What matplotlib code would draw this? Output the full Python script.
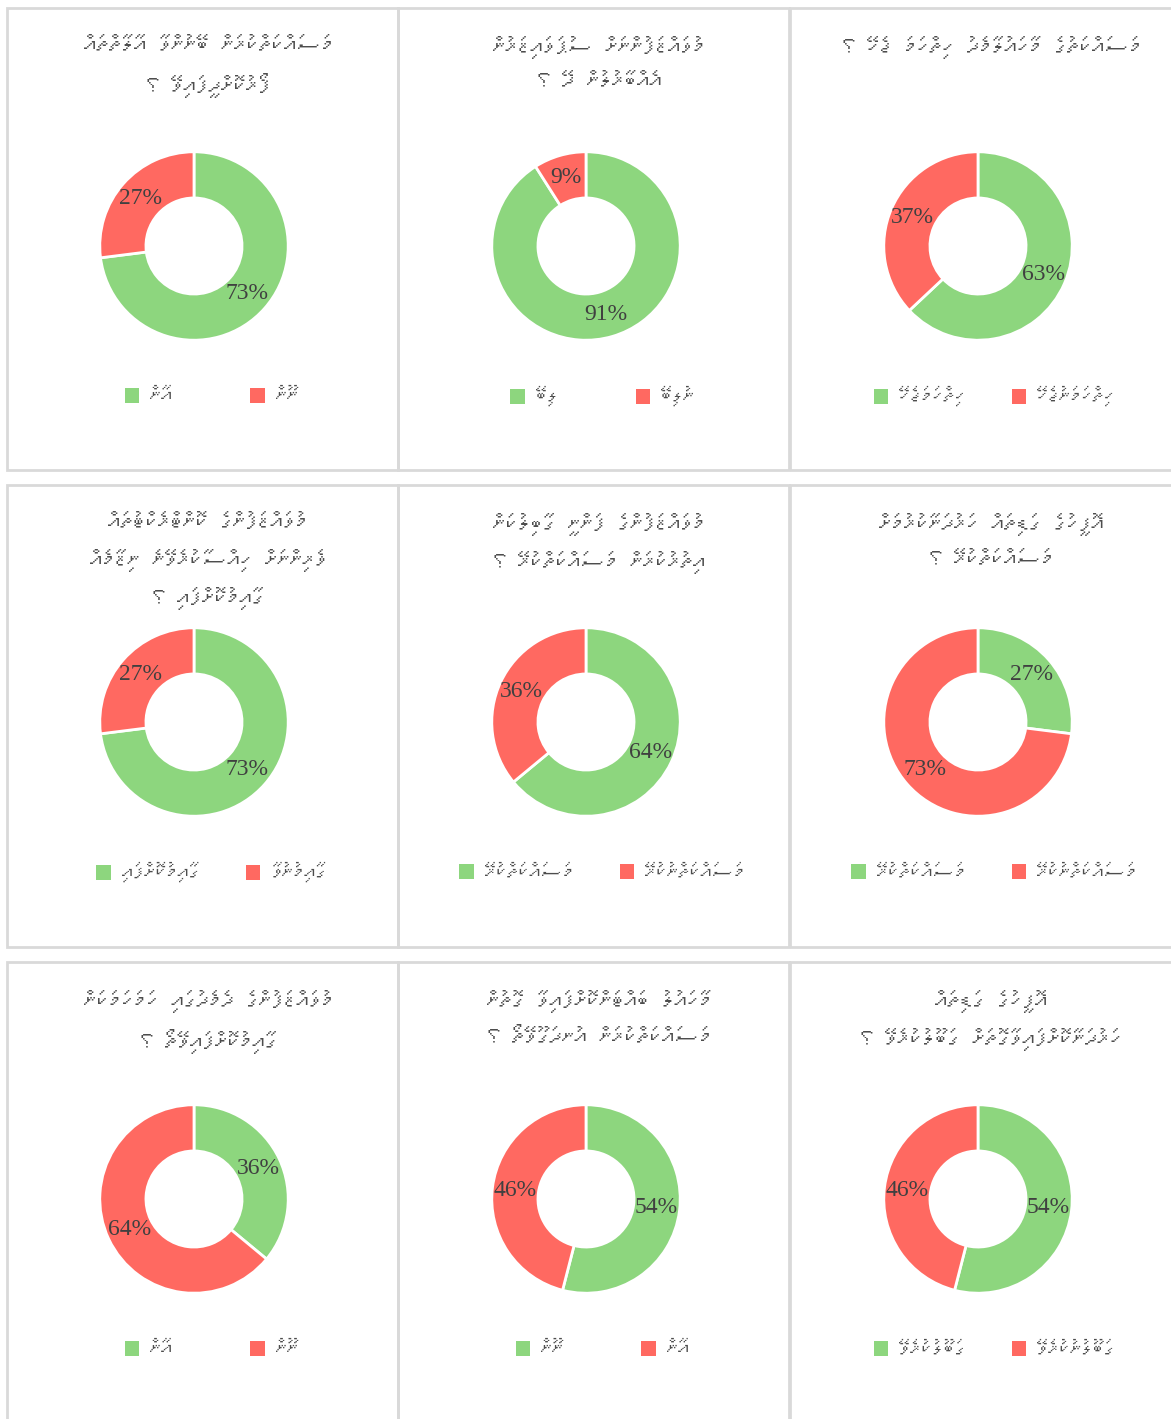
import unicodedata
import matplotlib
matplotlib.use("Agg")
import matplotlib.pyplot as plt
from matplotlib import font_manager
from matplotlib.ft2font import FT2Font
from matplotlib.patches import Patch, Rectangle

# panels in reading order: row by row, left to right
titles = [
    "މަސައްކަތްކުރަން ބޭނުންވާ އާލާތްތައް\nފޯރުކޮށްދީފައިވޭ ؟",
    "މުވައްޒަފުންނަށް ސުޕަވައިޒަރުން\nއެއްބާރުލުން ދޭ ؟",
    "މަސައްކަތުގެ މާހައުލާމެދު ހިތްހަމަ ޖެހޭ ؟",
    "މުވައްޒަފުންގެ ކޮންޓްރެކްޓުތައް\nވެރިންނަށް ހިއްސާކުރެވޭނެ ނިޒާމެއް\nގާއިމުކޮށްފައި ؟",
    "މުވައްޒަފުންގެ ފަންނީ ގާބިލުކަން\nއިތުރުކުރަން މަސައްކަތްކުރޭ ؟",
    "އޮފީހުގެ ގަޑިތައް ހަރުދަނާކުރުމަށް\nމަސައްކަތްކުރޭ ؟",
    "މުވައްޒަފުންގެ ދެމެދުގައި ހަމަހަމަކަން\nގާއިމުކޮށްފައިވޭތޯ ؟",
    "މާހައުލު ބައްޓަންކޮށްފައިވާ ގޮތުން\nމަސައްކަތްކުރަން އުނދަގޫވޭތޯ ؟",
    "އޮފީހުގެ ގަޑިތައް\nހަރުދަނާކޮށްފައިވާގޮތަށް ގަބޫލުކުރެވޭ ؟",
]
green_pct = [73, 91, 63, 73, 64, 27, 36, 54, 54]
red_pct = [27, 9, 37, 27, 36, 73, 64, 46, 46]
green_labels = ["އާން", "ލިބޭ", "ހިތްހަމަޖެހޭ", "ގާއިމުކޮށްފައި", "މަސައްކަތްކުރޭ",
                "މަސައްކަތްކުރޭ", "އާން", "ނޫން", "ގަބޫލުކުރެވޭ"]
red_labels = ["ނޫން", "ނުލިބޭ", "ހިތްހަމަނުޖެހޭ", "ގާއިމުނުވާ", "މަސައްކަތްނުކުރޭ",
              "މަސައްކަތްނުކުރޭ", "ނޫން", "އާން", "ގަބޫލުނުކުރެވޭ"]

GREEN = "#8dd67e"
RED = "#ff6961"
W, H = 1171, 1419

# look for an installed font that covers Thaana
thaana = None
for f in font_manager.fontManager.ttflist:
    try:
        if 0x0786 in FT2Font(f.fname).get_charmap():
            thaana = f.name
            break
    except Exception:
        pass
text_family = [thaana, "DejaVu Sans"] if thaana else ["DejaVu Sans"]


def rtl(s):
    # matplotlib has no bidi: put each line in visual order, letters keep their vowel marks
    out = []
    for line in s.split("\n"):
        clusters = []
        for ch in line:
            if clusters and unicodedata.combining(ch):
                clusters[-1] += ch
            else:
                clusters.append(ch)
        out.append("".join(reversed(clusters)))
    return "\n".join(out)


fig = plt.figure(figsize=(W / 100, H / 100), dpi=100)
fig.patch.set_facecolor("white")
renderer = fig.canvas.get_renderer()

panel_x = [7, 398, 790]
panel_y = [8, 485, 962]
panel_w = 391
panel_h = 462
centers_x = [194, 586, 978]
centers_y = [246, 722, 1199]
LEG_SIZE = 16

for i in range(9):
    r, c = divmod(i, 3)
    px, py = panel_x[c], panel_y[r]
    fig.add_artist(Rectangle((px / W, 1 - (py + panel_h) / H), panel_w / W, panel_h / H,
                             transform=fig.transFigure, fill=False,
                             edgecolor="#d9d9d9", linewidth=2))

    cx, cy = centers_x[c], centers_y[r]
    size = 260
    ax = fig.add_axes([(cx - size / 2) / W, 1 - (cy + size / 2) / H, size / W, size / H])
    vals = [green_pct[i], red_pct[i]]
    wedges, texts = ax.pie(vals, colors=[GREEN, RED], startangle=90, counterclock=False,
                           radius=1, labels=[f"{v}%" for v in vals], labeldistance=0.755,
                           wedgeprops=dict(width=0.49, edgecolor="white", linewidth=2),
                           textprops=dict(fontsize=17, color="#404040",
                                          family="Liberation Serif"))
    for t in texts:
        t.set_ha("center")
        t.set_va("center")
    ax.set_xlim(-1.38, 1.38)
    ax.set_ylim(-1.38, 1.38)
    ax.set_aspect("equal")
    ax.axis("off")

    fig.text((px + panel_w / 2 + 6) / W, 1 - (py + 28) / H, rtl(titles[i]),
             ha="center", va="top", fontsize=18, color="#4d4d4d",
             linespacing=1.75, family=text_family)

    # gap after the green entry: wider when its label is short
    probe = fig.text(0, 0, rtl(green_labels[i]), fontsize=LEG_SIZE, family=text_family)
    wg = probe.get_window_extent(renderer).width
    probe.remove()
    gap_px = max(46, 100 - wg)
    font_px = LEG_SIZE * 100 / 72

    handles = [Patch(facecolor=GREEN, label=rtl(green_labels[i])),
               Patch(facecolor=RED, label=rtl(red_labels[i]))]
    fig.legend(handles=handles, loc="center",
               bbox_to_anchor=((px + panel_w / 2 + 9) / W, 1 - (cy + 151) / H),
               ncol=2, frameon=False, labelcolor="#4d4d4d",
               handlelength=0.65, handleheight=0.65, handletextpad=0.5,
               columnspacing=gap_px / font_px, prop=dict(family=text_family, size=LEG_SIZE))

fig.savefig("out.png", dpi=100, facecolor="white")
